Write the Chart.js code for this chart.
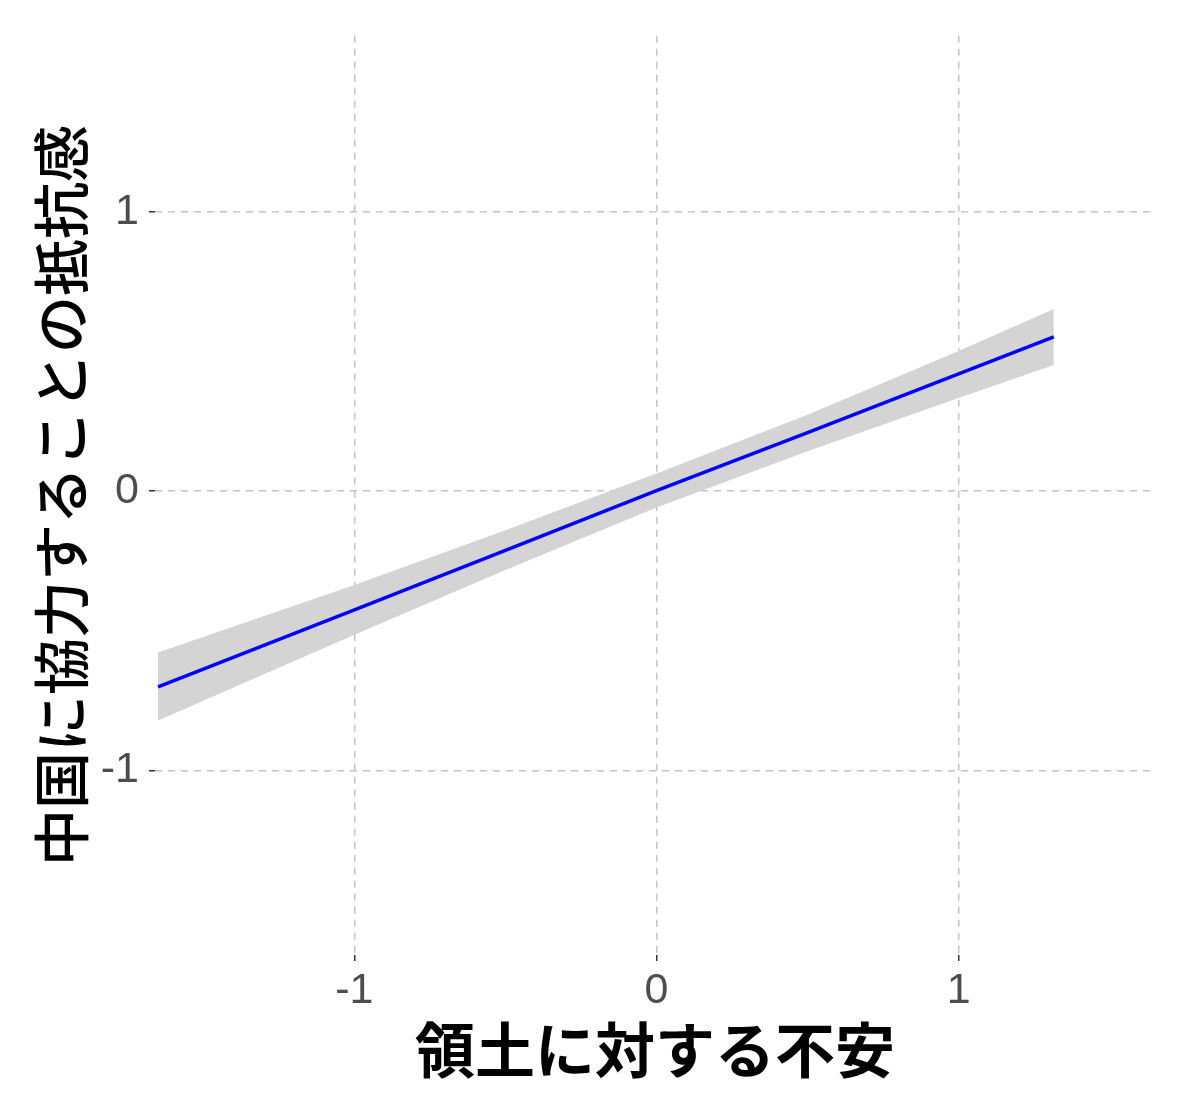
<!DOCTYPE html>
<html>
<head>
<meta charset="utf-8">
<script src="https://cdn.jsdelivr.net/npm/chart.js@4"></script>
<style>
  body { margin: 0; background: #ffffff; }
  #wrap { width: 1182px; height: 1114px; position: relative; }
</style>
</head>
<body>
<div id="wrap"><canvas id="grafico"></canvas></div>
<script>
// values
const xVals     = [-1.65, -1.0, -0.5, 0.0, 0.5, 1.0, 1.315];
const fitVals   = [-0.700, -0.425, -0.212, 0.002, 0.210, 0.420, 0.552];
const upperVals = [-0.577, -0.336, -0.140, 0.063, 0.274, 0.502, 0.652];
const lowerVals = [-0.821, -0.514, -0.282, -0.058, 0.143, 0.334, 0.452];

const xTicks = [-1, 0, 1];
const yTicks = [-1, 0, 1];

const xTitle = '領土に対する不安';
const yTitle = '中国に協力することの抵抗感';

const pts = vals => xVals.map((x, i) => ({ x: x, y: vals[i] }));

const gridCfg = {
  color: '#c4c4c4',
  lineWidth: 1.5,
  drawTicks: true,
  tickLength: 6,
  tickColor: '#333333',
  tickWidth: 1.5
};
const borderCfg = { display: false, dash: [7, 6] };
const tickFont = { family: "'Liberation Sans', Arial, sans-serif", size: 43 };
const cjk = "'Noto Sans CJK JP', 'Noto Sans CJK SC', sans-serif";

const ctx = document.getElementById('grafico').getContext('2d');
new Chart(ctx, {
  type: 'line',
  data: {
    datasets: [
      {
        label: 'fit',
        data: pts(fitVals),
        borderColor: '#0000ff',
        borderWidth: 3.5,
        pointRadius: 0,
        fill: false,
        tension: 0,
        order: 0
      },
      {
        label: 'upper',
        data: pts(upperVals),
        borderWidth: 0,
        borderColor: 'rgba(0,0,0,0)',
        pointRadius: 0,
        fill: false,
        tension: 0,
        order: 2
      },
      {
        label: 'lower',
        data: pts(lowerVals),
        borderWidth: 0,
        borderColor: 'rgba(0,0,0,0)',
        backgroundColor: '#d4d4d4',
        pointRadius: 0,
        fill: '-1',
        tension: 0,
        order: 1
      }
    ]
  },
  options: {
    responsive: true,
    maintainAspectRatio: false,
    animation: false,
    layout: { padding: { top: 35, right: 27, left: 0, bottom: 0 } },
    plugins: {
      legend: { display: false },
      tooltip: { enabled: false }
    },
    scales: {
      x: {
        type: 'linear',
        min: -1.66,
        max: 1.65,
        grid: gridCfg,
        border: borderCfg,
        afterBuildTicks: s => { s.ticks = xTicks.map(v => ({ value: v })); },
        afterFit: s => { s.height = 159; },
        ticks: {
          font: tickFont,
          color: '#4d4d4d',
          padding: 4,
          callback: v => String(v)
        },
        title: {
          display: true,
          text: xTitle,
          color: '#000000',
          font: { family: cjk, size: 60, weight: 'bold' },
          padding: { top: 0, bottom: 28 }
        }
      },
      y: {
        type: 'linear',
        min: -1.66,
        max: 1.63,
        grid: gridCfg,
        border: borderCfg,
        afterBuildTicks: s => { s.ticks = yTicks.map(v => ({ value: v })); },
        afterFit: s => { s.width = 155; },
        ticks: {
          font: tickFont,
          color: '#4d4d4d',
          padding: 10,
          callback: v => String(v)
        },
        title: {
          display: true,
          text: yTitle,
          color: '#000000',
          font: { family: cjk, size: 57, weight: '500' },
          padding: { top: 27, bottom: 0 }
        }
      }
    }
  }
});
</script>
</body>
</html>
